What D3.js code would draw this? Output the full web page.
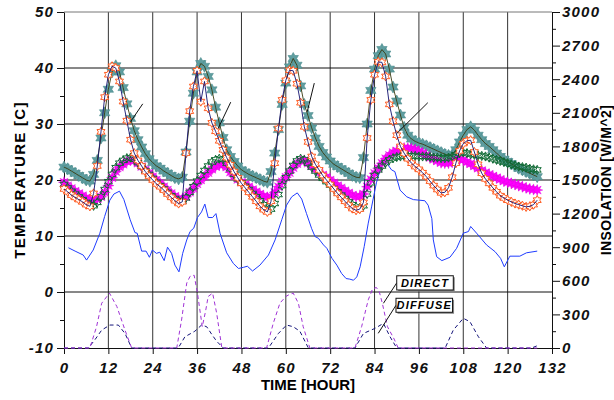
<!DOCTYPE html>
<html>
<head>
<meta charset="utf-8">
<script src="https://cdn.jsdelivr.net/npm/d3@7"></script>
<style>
  body { margin: 0; background: #fff; }
  text { font-family: "Liberation Sans", Arial, sans-serif; }
</style>
</head>
<body>
<svg id="chart" width="614" height="400"></svg>
<script>
// hourly time steps 0..128
const hours = d3.range(0, 129);

// teal star series (left axis, deg C)
const tealTemp = [
  22.3, 22.0, 21.6, 21.2, 20.8, 20.4, 20.0, 19.8, 21.0, 23.5,
  27.5, 32.0, 36.2, 39.3, 40.4, 39.3, 36.5, 33.6, 31.0, 28.8,
  27.2, 25.9, 24.7, 23.8, 23.1, 22.5, 22.1, 21.6, 21.2, 20.8,
  20.4, 20.2, 20.5, 25.0, 30.5, 35.5, 39.3, 40.8, 40.3, 38.5,
  36.1, 33.0, 30.2, 27.6, 25.4, 24.2, 23.3, 22.5, 21.8, 21.4,
  21.0, 20.7, 20.4, 20.1, 19.8, 19.6, 21.5, 24.8, 29.0, 33.5,
  37.3, 40.2, 41.7, 40.5, 36.8, 33.5, 31.5, 29.3, 27.5, 26.0,
  24.9, 24.1, 23.4, 22.8, 22.4, 22.0, 21.6, 21.2, 20.8, 20.5,
  20.4, 24.0, 30.0, 36.0, 39.8, 42.2, 43.3, 42.5, 39.8, 36.6,
  34.1, 31.6, 29.4, 28.0, 27.3, 26.9, 26.6, 26.4, 26.1, 25.8,
  25.5, 25.2, 24.9, 24.6, 24.4, 24.5, 25.4, 26.8, 28.0, 29.0,
  29.5, 28.9, 28.0, 27.2, 26.5, 26.0, 25.4, 24.8, 24.2, 23.7,
  23.3, 22.9, 22.5, 22.1, 21.8, 21.5, 21.2, 20.9, 20.6
];

// orange open-star series
const orangeTemp = [
  18.4, 17.9, 17.3, 16.9, 16.5, 16.1, 15.6, 15.3, 17.6, 22.5,
  28.6, 34.8, 38.8, 40.3, 40.0, 37.6, 34.0, 30.6, 27.2, 24.8,
  23.5, 22.5, 21.5, 20.7, 20.0, 19.3, 18.8, 18.2, 17.5, 16.9,
  16.3, 15.8, 16.1, 24.8, 32.3, 36.7, 39.5, 34.0, 37.6, 32.8,
  30.2, 28.7, 27.0, 25.4, 24.0, 22.7, 21.5, 20.4, 19.4, 18.6,
  17.8, 17.0, 16.2, 15.3, 14.7, 14.3, 16.2, 23.0, 29.2, 34.3,
  37.8, 39.6, 39.5, 37.2, 33.8, 29.5, 26.8, 24.2, 22.8, 21.8,
  20.8, 20.0, 19.2, 18.4, 17.6, 16.9, 16.2, 15.5, 14.9, 14.6,
  14.8, 16.0, 27.5, 34.3, 38.8, 41.1, 41.0, 38.5, 33.5, 30.5,
  28.0, 26.0, 24.8, 23.8, 23.0, 22.4, 21.9, 21.3, 20.6, 19.8,
  19.0, 18.3, 17.7, 17.8, 18.6, 20.5, 23.0, 25.2, 26.5, 27.0,
  27.1, 25.0, 22.8, 21.2, 20.2, 19.4, 18.6, 17.9, 17.2, 16.8,
  16.4, 16.1, 15.8, 15.6, 15.4, 15.2, 15.3, 15.6, 16.4
];

// magenta filled-star series
const magentaTemp = [
  19.6, 19.0, 18.5, 18.0, 17.6, 17.2, 16.8, 16.5, 16.4, 16.6,
  17.0, 17.8, 19.0, 20.4, 21.5, 22.3, 22.8, 23.3, 23.6, 23.4,
  23.0, 22.4, 21.8, 21.2, 20.6, 20.0, 19.4, 18.8, 18.2, 17.6,
  17.1, 16.7, 16.5, 17.0, 17.8, 18.5, 19.3, 20.0, 20.6, 21.3,
  21.9, 22.4, 22.7, 22.7, 22.3, 21.4, 20.7, 20.1, 19.6, 19.2,
  18.8, 18.3, 17.9, 17.5, 17.1, 16.9, 17.0, 17.8, 18.8, 19.7,
  20.5, 21.3, 22.2, 22.9, 23.4, 23.5, 23.0, 22.5, 22.0, 21.4,
  20.9, 20.5, 20.0, 19.5, 19.0, 18.6, 18.1, 17.7, 17.3, 17.0,
  17.1, 17.5, 18.8, 20.1, 21.2, 22.1, 23.0, 23.8, 24.4, 24.9,
  25.2, 25.5, 25.7, 25.7, 25.6, 25.4, 25.1, 24.8, 24.4, 24.0,
  23.7, 23.4, 23.1, 23.0, 23.0, 23.2, 23.5, 23.7, 23.6, 23.2,
  22.9, 22.5, 22.1, 21.7, 21.3, 21.0, 20.7, 20.4, 20.1, 19.8,
  19.6, 19.4, 19.2, 19.0, 18.8, 18.6, 18.4, 18.3, 18.2
];

// dark green open-star series
const greenTemp = [
  19.2, 18.6, 18.0, 17.5, 17.0, 16.5, 16.0, 15.6, 15.4, 16.0,
  17.0, 18.3, 19.7, 21.0, 22.2, 23.0, 23.5, 23.9, 24.0, 23.7,
  23.1, 22.4, 21.7, 21.0, 20.3, 19.6, 19.0, 18.4, 17.8, 17.2,
  16.7, 16.3, 16.2, 16.8, 17.8, 18.8, 19.8, 20.8, 21.7, 22.5,
  23.2, 23.6, 23.8, 23.7, 23.0, 22.0, 21.0, 20.2, 19.5, 18.9,
  18.3, 17.6, 17.0, 16.3, 15.6, 15.0, 14.8, 15.8, 17.4, 19.0,
  20.4, 21.6, 22.6, 23.4, 23.8, 23.6, 23.0, 22.3, 21.6, 20.9,
  20.3, 19.7, 19.1, 18.5, 17.9, 17.3, 16.7, 16.1, 15.6, 15.2,
  14.9, 15.4, 17.5, 19.5, 20.8, 21.8, 22.5, 23.1, 23.6, 23.9,
  24.1, 24.2, 24.3, 24.3, 24.3, 24.3, 24.2, 24.2, 24.2, 24.1,
  24.0, 24.0, 23.9, 23.9, 24.0, 24.2, 24.5, 24.8, 24.9, 24.8,
  24.6, 24.5, 24.4, 24.3, 24.2, 24.0, 23.8, 23.6, 23.4, 23.2,
  23.0, 22.8, 22.6, 22.4, 22.3, 22.2, 22.0, 21.9, 21.8
];

// blue solid line (left axis)
const blueHours = [1.2, 3, 5.2, 6.1, 7.9, 9.7, 11, 12.4, 13.5, 15, 16.2, 17.9, 19.2, 19.8, 21, 22.2, 23.1, 23.9, 25, 25.9,
  27.1, 28, 29.1, 30, 31.1, 32.1, 33.2, 34.1, 35.1, 36.1, 37.2, 38.1, 39, 40.2, 41.1, 42.2, 44, 45.8, 47.2, 48.5,
  49.6, 51, 53, 55.3, 57.1, 58.9, 60.2, 61.6, 63.1, 64.3, 65.6, 67, 67.9, 68.8, 70.2, 71.1, 72.5, 73.8, 75.1, 76.3,
  77.3, 78.3, 79.2, 80.1, 81.2, 82.3, 83.2, 84.5, 85.9, 87.3, 88.6, 89.5, 90.9, 92.7, 94.5, 97.6, 98.5, 99.5, 99.9, 100.8,
  102.2, 104.4, 106.2, 108, 109.4, 110, 111.6, 114.3, 116.6, 118.1, 119.1, 120.6, 123.3, 125.1, 128];
const blueTemp = [7.9, 7.3, 6.6, 5.7, 7.5, 10.5, 13.5, 16.4, 17.5, 18.0, 16.5, 12.9, 10.6, 10.5, 7.3, 7.3, 6.2, 7.5, 6.9, 7.1,
  5.6, 8.0, 6.9, 4.8, 3.6, 6.9, 9.3, 10.8, 11.4, 13.3, 14.3, 15.7, 13.3, 13.3, 14.0, 10.5, 7.0, 5.1, 4.2, 4.4,
  4.6, 3.75, 4.8, 6.6, 9.3, 12.9, 15.5, 17.0, 17.7, 16.6, 14.0, 11.3, 9.9, 9.6, 8.4, 7.8, 6.0, 4.8, 3.3, 2.4,
  2.3, 2.1, 2.7, 4.5, 8.1, 12.3, 15.2, 19.5, 22.7, 23.0, 21.8, 21.5, 18.2, 17.0, 16.5, 16.3, 15.5, 13.1, 9.3, 6.3,
  5.6, 6.2, 7.8, 10.5, 10.8, 11.7, 10.5, 8.4, 7.2, 6.0, 4.5, 6.4, 6.4, 7.0, 7.3];

// insolation (right axis, W/m^2)
const directHours = [0, 7, 8.8, 10.2, 12.3, 14.3, 16.5, 18.3, 30.5, 31.8, 33.2, 34.1, 35.2, 36.1, 37.4, 38.3, 39, 40.2, 41.3, 42.7,
  54.8, 56.6, 58.4, 60, 61.1, 62, 63.4, 64.7, 66.5, 78.7, 80.5, 82.3, 83.5, 84.5, 85.3, 86.1, 87.5, 89.3, 90.4, 128];
const directW = [0, 0, 190, 400, 490, 370, 160, 0, 0, 250, 580, 640, 650, 490, 190, 330, 460, 490, 310, 0,
  0, 220, 400, 460, 480, 490, 400, 190, 0, 0, 190, 430, 530, 540, 500, 400, 190, 80, 0, 0];
const diffuseHours = [0, 6.6, 8.5, 10.2, 12.4, 14.7, 16.5, 18.3, 30.9, 32.7, 35.4, 37.2, 38.6, 40, 41.3, 43.1,
  55.3, 58, 60.2, 62, 63.8, 66.1, 78.7, 81, 84.1, 86.4, 88.2, 90, 103.1, 105.3, 108, 109.8, 112.1, 114.3, 126.5, 128];
const diffuseW = [0, 0, 80, 160, 205, 205, 130, 0, 0, 100, 150, 205, 190, 120, 60, 0,
  0, 130, 205, 190, 150, 0, 0, 130, 175, 220, 100, 0, 0, 160, 265, 235, 100, 0, 0, 20];

const xTicks = [0, 12, 24, 36, 48, 60, 72, 84, 96, 108, 120, 132];
const tempTicks = [-10, 0, 10, 20, 30, 40, 50];
const insTicks = [0, 300, 600, 900, 1200, 1500, 1800, 2100, 2400, 2700, 3000];

const svg = d3.select("#chart");
const margin = {top: 12, right: 62, bottom: 52, left: 64};
const W = 614, H = 400;

const x = d3.scaleLinear().domain([0, 132]).range([margin.left, W - margin.right]);
const yT = d3.scaleLinear().domain([-10, 50]).range([H - margin.bottom, margin.top]);
const yI = d3.scaleLinear().domain([0, 3000]).range([H - margin.bottom, margin.top]);

svg.append("rect").attr("width", W).attr("height", H).attr("fill", "#fff");

// grid
svg.append("g").selectAll("line")
  .data(xTicks.slice(1, -1))
  .enter().append("line")
  .attr("x1", d => x(d)).attr("x2", d => x(d))
  .attr("y1", yT(50)).attr("y2", yT(-10))
  .attr("stroke", "#333").attr("stroke-width", 1);
svg.append("g").selectAll("line")
  .data(tempTicks.slice(1))
  .enter().append("line")
  .attr("x1", x(0)).attr("x2", x(132))
  .attr("y1", d => yT(d)).attr("y2", d => yT(d))
  .attr("stroke", d => d == 50 ? "#777" : "#111").attr("stroke-width", 1);

// axes
function styleTicks(g) {
  g.selectAll("text")
    .style("font-size", "15px")
    .style("font-weight", "bold")
    .style("font-style", "italic")
    .style("letter-spacing", "1.2px")
    .attr("fill", "#111");
  g.selectAll("line").attr("stroke", "#111");
  g.select(".domain").attr("stroke", "#111");
}

svg.append("g")
  .attr("transform", "translate(0," + yT(-10) + ")")
  .call(d3.axisBottom(x).tickValues(xTicks).tickSize(6).tickSizeOuter(0).tickPadding(8))
  .call(styleTicks);

svg.append("g")
  .attr("transform", "translate(" + x(0) + ",0)")
  .call(d3.axisLeft(yT).tickValues(d3.range(-10, 51, 5)).tickSize(4).tickSizeOuter(0)
    .tickFormat(d => tempTicks.includes(d) ? d : ""))
  .call(styleTicks)
  .call(g => g.selectAll(".tick line").filter(d => tempTicks.includes(d)).attr("x2", -7))
  .call(g => g.selectAll(".tick text").attr("x", -10));

svg.append("g")
  .attr("transform", "translate(" + x(132) + ",0)")
  .call(d3.axisRight(yI).tickValues(d3.range(0, 3001, 150)).tickSize(4).tickSizeOuter(0)
    .tickFormat(d => insTicks.includes(d) ? d : ""))
  .call(styleTicks)
  .call(g => g.selectAll(".tick line").filter(d => insTicks.includes(d)).attr("x2", 8))
  .call(g => g.selectAll(".tick text").attr("x", 10));

// axis titles
svg.append("text")
  .attr("transform", "translate(25," + yT(20) + ") rotate(-90)")
  .attr("text-anchor", "middle")
  .style("font-size", "15px").style("font-weight", "bold").style("letter-spacing", "1.3px")
  .text("TEMPERATURE [C]");
svg.append("text")
  .attr("transform", "translate(611," + yT(20) + ") rotate(-90)")
  .attr("text-anchor", "middle")
  .style("font-size", "14px").style("font-weight", "bold").style("letter-spacing", "0.4px")
  .text("INSOLATION [W/M^2]");
svg.append("text")
  .attr("x", x(66)).attr("y", 390)
  .attr("text-anchor", "middle")
  .style("font-size", "15px").style("font-weight", "bold")
  .text("TIME [HOUR]");

// marker shapes
function starPath(points, outer, inner) {
  const p = d3.path();
  for (let i = 0; i < points * 2; i++) {
    const a = Math.PI * i / points - Math.PI / 2;
    const r = i % 2 === 0 ? outer : inner;
    if (i === 0) p.moveTo(r * Math.cos(a), r * Math.sin(a));
    else p.lineTo(r * Math.cos(a), r * Math.sin(a));
  }
  p.closePath();
  return p.toString();
}

const lineT = vals => d3.line().x((d, i) => x(hours[i])).y(d => yT(d))(vals);

function markers(vals, shape, fill, stroke, sw) {
  svg.append("g").selectAll("path")
    .data(vals)
    .enter().append("path")
    .attr("transform", (d, i) => "translate(" + x(hours[i]) + "," + yT(d) + ")")
    .attr("d", shape)
    .attr("fill", fill)
    .attr("stroke", stroke)
    .attr("stroke-width", sw);
}

// blue line
svg.append("path")
  .attr("d", d3.line().x((d, i) => x(blueHours[i])).y(d => yT(d))(blueTemp))
  .attr("fill", "none").attr("stroke", "#1f3cff").attr("stroke-width", 1);

// insolation dashed lines
svg.append("path")
  .attr("d", d3.line().x((d, i) => x(diffuseHours[i])).y(d => yI(d))(diffuseW))
  .attr("fill", "none").attr("stroke", "#14147a").attr("stroke-width", 1)
  .attr("stroke-dasharray", "4,3");
svg.append("path")
  .attr("d", d3.line().x((d, i) => x(directHours[i])).y(d => yI(d))(directW))
  .attr("fill", "none").attr("stroke", "#a033d6").attr("stroke-width", 1)
  .attr("stroke-dasharray", "4,3");

// temperature series
markers(tealTemp, starPath(6, 6, 3.4), "#5f9ea0", "#4a8b8d", 0.6);
svg.append("path").attr("d", lineT(tealTemp))
  .attr("fill", "none").attr("stroke", "#3a3a10").attr("stroke-width", 0.9);

markers(magentaTemp, starPath(8, 5.6, 2.6), "#ff00ff", "#e000e0", 0.4);
markers(greenTemp, starPath(6, 4.6, 2.4), "none", "#0f6a34", 1);

markers(orangeTemp, starPath(6, 4.6, 2.6), "#fff", "#ff5a1f", 1);
svg.append("path").attr("d", lineT(orangeTemp))
  .attr("fill", "none").attr("stroke", "#10106e").attr("stroke-width", 0.9);

// leader lines near the peaks
const leaders = [
  [[18.0, 30.4], [21.3, 33.6]],
  [[41.7, 29.2], [45.1, 33.9]],
  [[65.8, 32.2], [67.7, 37.3]],
  [[90.0, 28.3], [98.4, 33.8]]
];
svg.append("g").selectAll("line")
  .data(leaders)
  .enter().append("line")
  .attr("x1", d => x(d[0][0])).attr("y1", d => yT(d[0][1]))
  .attr("x2", d => x(d[1][0])).attr("y2", d => yT(d[1][1]))
  .attr("stroke", "#111").attr("stroke-width", 1);

// DIRECT / DIFFUSE labels
const labels = [
  {text: "DIRECT", t0: 90.0, t1: 105.3, top: 645, bottom: 518, pt: [86.4, 399]},
  {text: "DIFFUSE", t0: 89.8, t1: 105.1, top: 444, bottom: 319, pt: [85.0, 131]}
];
labels.forEach(l => {
  const bx = x(l.t0), by = yI(l.top), bw = x(l.t1) - x(l.t0), bh = yI(l.bottom) - yI(l.top);
  svg.append("line")
    .attr("x1", bx).attr("y1", by + bh / 2)
    .attr("x2", x(l.pt[0])).attr("y2", yI(l.pt[1]))
    .attr("stroke", "#111").attr("stroke-width", 1);
  svg.append("rect")
    .attr("x", bx + 1.5).attr("y", by + 1.5).attr("width", bw).attr("height", bh)
    .attr("fill", "#888");
  svg.append("rect")
    .attr("x", bx).attr("y", by).attr("width", bw).attr("height", bh)
    .attr("fill", "#fff").attr("stroke", "#111").attr("stroke-width", 1);
  svg.append("text")
    .attr("x", bx + bw / 2).attr("y", by + bh / 2 + 4)
    .attr("text-anchor", "middle")
    .style("font-size", "11px").style("font-weight", "bold").style("font-style", "italic")
    .style("letter-spacing", "1.2px")
    .text(l.text);
});
</script>
</body>
</html>
